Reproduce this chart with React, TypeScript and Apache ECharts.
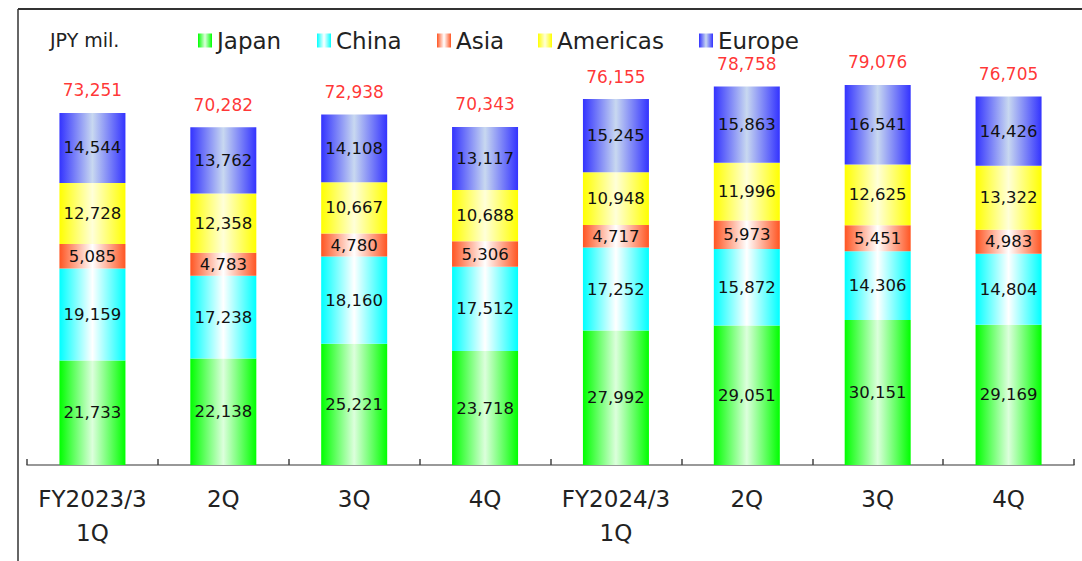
import React, { useEffect, useRef } from "react";
import * as echarts from "echarts";

const categories = ["FY2023/3\n1Q", "2Q", "3Q", "4Q", "FY2024/3\n1Q", "2Q", "3Q", "4Q"];
const japan = [21733, 22138, 25221, 23718, 27992, 29051, 30151, 29169];
const china = [19159, 17238, 18160, 17512, 17252, 15872, 14306, 14804];
const asia = [5085, 4783, 4780, 5306, 4717, 5973, 5451, 4983];
const americas = [12728, 12358, 10667, 10688, 10948, 11996, 12625, 13322];
const europe = [14544, 13762, 14108, 13117, 15245, 15863, 16541, 14426];
const totals = [73251, 70282, 72938, 70343, 76155, 78758, 79076, 76705];
const legendNames = ["Japan", "China", "Asia", "Americas", "Europe"];

const FONT = "'DejaVu Sans', Verdana, sans-serif";

const grad = (edge: string, center: string) =>
  new echarts.graphic.LinearGradient(0, 0, 1, 0, [
    { offset: 0, color: edge },
    { offset: 0.5, color: center },
    { offset: 1, color: edge },
  ]);

const fmt = (v: number) => v.toLocaleString("en-US");

export default function App() {
  const ref = useRef<HTMLDivElement>(null);
  useEffect(() => {
    if (!ref.current) return;
    const chart = echarts.init(ref.current, null, { renderer: "svg" });
    const mk = (name: string, data: number[], edge: string, center: string) => ({
      name,
      type: "bar",
      stack: "total",
      data,
      barWidth: 66,
      itemStyle: { color: grad(edge, center) },
      label: {
        show: true,
        position: "inside",
        color: "#111",
        fontFamily: FONT,
        fontSize: 16.5,
        formatter: (p: any) => fmt(p.value),
      },
    });
    const legendLefts = [193, 312, 432, 533, 694];
    chart.setOption({
      animation: false,
      backgroundColor: "#fff",
      grid: { left: 27, right: 8, top: 32.5, bottom: 96 },
      legend: legendNames.map((n, i) => ({
        data: [n],
        left: legendLefts[i],
        top: 24,
        itemWidth: 14,
        itemHeight: 14,
        icon: "rect",
        textStyle: { fontFamily: FONT, fontSize: 23, color: "#222" },
      })),
      graphic: [
        {
          type: "text",
          left: 50,
          top: 30,
          style: { text: "JPY mil.", fontFamily: FONT, fontSize: 19, fill: "#222" },
        },
        {
          type: "line",
          shape: { x1: 18, y1: 9, x2: 18, y2: 561 },
          style: { stroke: "#333", lineWidth: 1.5 },
        },
        {
          type: "line",
          shape: { x1: 18, y1: 9, x2: 1082, y2: 9 },
          style: { stroke: "#333", lineWidth: 2 },
        },
      ],
      xAxis: {
        type: "category",
        data: categories,
        axisLine: { lineStyle: { color: "#777", width: 1.5 } },
        axisTick: { show: true, inside: true, length: 6, lineStyle: { color: "#444", width: 1.5 } },
        axisLabel: {
          fontFamily: FONT,
          fontSize: 23,
          color: "#222",
          margin: 17,
          lineHeight: 34,
          interval: 0,
        },
      },
      yAxis: {
        type: "value",
        min: 0,
        max: 90000,
        show: false,
        splitLine: { show: false },
      },
      series: [
        mk("Japan", japan, "#00ff00", "#dcffdc"),
        mk("China", china, "#00ffff", "#ffffff"),
        mk("Asia", asia, "#ff5522", "#ffffff"),
        mk("Americas", americas, "#ffff00", "#ffffd8"),
        mk("Europe", europe, "#3333ff", "#c8d8f0"),
        {
          name: "Total",
          type: "scatter",
          data: totals,
          symbolSize: 0,
          z: 5,
          label: {
            show: true,
            position: "top",
            distance: 14,
            color: "#ff0000",
            fontFamily: FONT,
            fontSize: 17,
            formatter: (p: any) => fmt(p.value),
          },
        },
      ],
    });
    return () => chart.dispose();
  }, []);
  return (
    <div
      ref={ref}
      style={{ position: "fixed", left: 0, top: 0, width: 1082, height: 561 }}
    />
  );
}
